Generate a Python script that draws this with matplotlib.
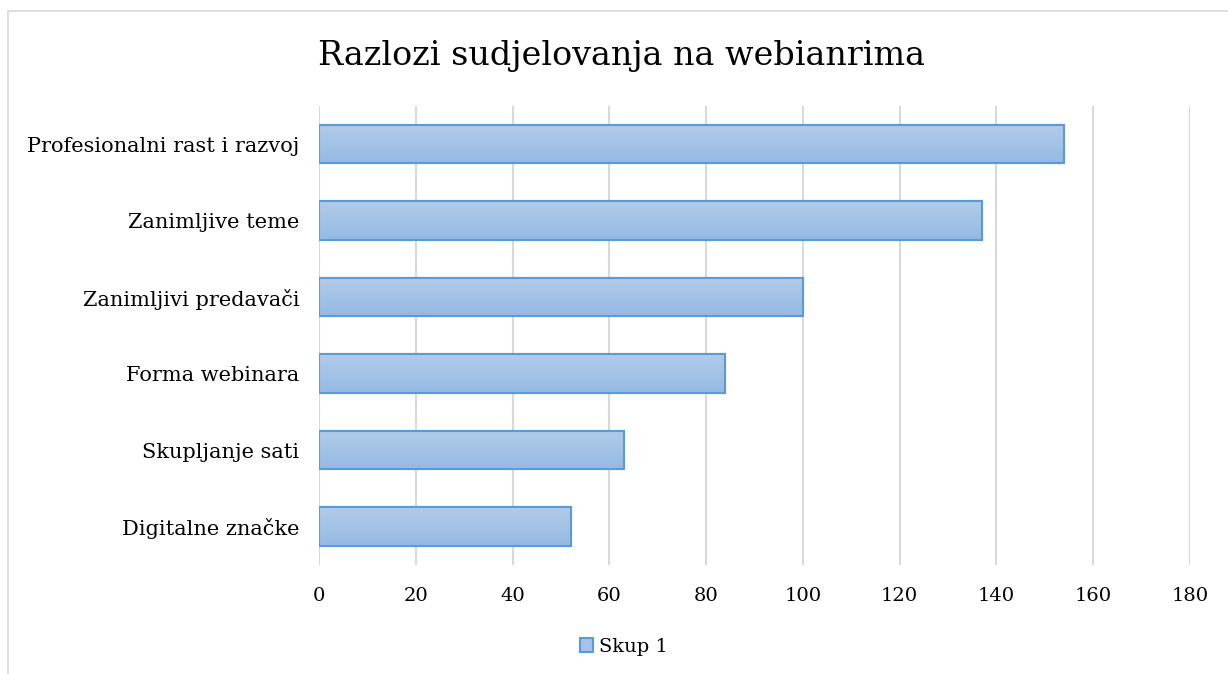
import numpy as np
import matplotlib.pyplot as plt
from matplotlib.patches import Rectangle
from matplotlib.colors import LinearSegmentedColormap

# Data
categories = ["Profesionalni rast i razvoj", "Zanimljive teme", "Zanimljivi predavači",
              "Forma webinara", "Skupljanje sati", "Digitalne značke"]
values = [154, 137, 100, 84, 63, 52]
series_name = "Skup 1"
xticks = [0, 20, 40, 60, 80, 100, 120, 140, 160, 180]

plt.rcParams['font.family'] = ['DejaVu Serif']

fig = plt.figure(figsize=(12.28, 6.74), dpi=100)
ax = fig.add_axes([0.2598, 0.162, 0.7092, 0.681])

# light frame around the whole chart
fig.patches.append(Rectangle((8 / 1228, -0.01), 1.0, 1.01 - 11 / 674, transform=fig.transFigure,
                             fill=False, edgecolor='#D9D9D9', linewidth=1.2))

y = np.arange(len(categories))
height = 0.5
grad = LinearSegmentedColormap.from_list('g', ['#B2CBE9', '#95BAE4'])

bars = ax.barh(y, values, height=height, color='#A5C3E7', edgecolor='#5B9BD5',
               linewidth=1.5, zorder=3, label=series_name)
for b in bars:
    x0, y0 = b.get_x(), b.get_y()
    w, h = b.get_width(), b.get_height()
    im = ax.imshow(np.linspace(0, 1, 64).reshape(-1, 1), cmap=grad, aspect='auto',
                   extent=[x0, x0 + w, y0 + h, y0], origin='upper', zorder=3.5,
                   interpolation='bilinear')
    im.set_clip_path(b)
    edge = Rectangle((x0, y0), w, h, fill=False, edgecolor='#5B9BD5', linewidth=1.5, zorder=4)
    ax.add_patch(edge)

ax.set_xlim(0, 180)
ax.set_ylim(len(categories) - 0.5, -0.5)
ax.set_yticks(y)
ax.set_yticklabels(categories, fontsize=15)
ax.set_xticks(xticks)
ax.tick_params(axis='x', labelsize=14, length=0, pad=16)
ax.tick_params(axis='y', length=0, pad=14)
ax.xaxis.grid(True, color='#D9D9D9', linewidth=1.5, zorder=0)
ax.set_axisbelow(True)
for s in ax.spines.values():
    s.set_visible(False)

fig.suptitle("Razlozi sudjelovanja na webianrima", fontsize=24, y=0.94, x=0.506)

leg = fig.legend(handles=[bars], labels=[series_name], loc='center', bbox_to_anchor=(0.508, 0.04),
                 frameon=False, fontsize=14, handlelength=0.7, handleheight=0.7, handletextpad=0.3)

fig.savefig("out.png", dpi=100)
